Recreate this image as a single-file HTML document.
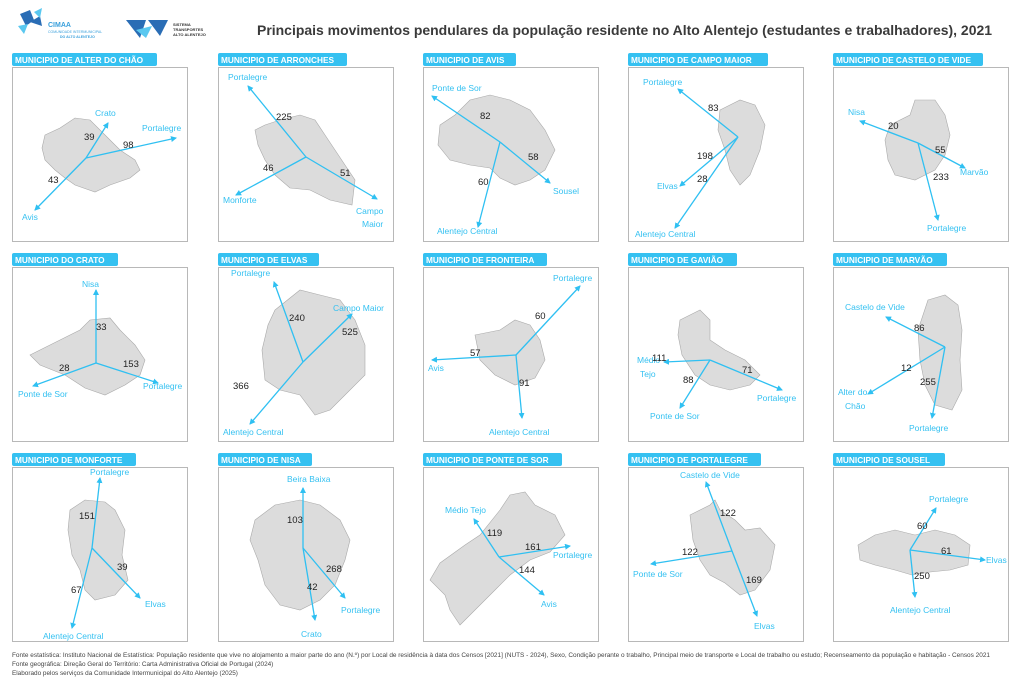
<!DOCTYPE html>
<html><head><meta charset="utf-8"><style>
body{margin:0;background:#fff;}
svg{display:block;font-family:"Liberation Sans",sans-serif;}
.box{fill:#fff;stroke:#b8b8b8;stroke-width:1}
.tab{fill:#35c1f1}
.tt{fill:#fff;font-weight:bold;font-size:8.3px}
.sh{fill:#dcdcdc;stroke:#aaa;stroke-width:0.6}
.ar{stroke:#2fc0f2;stroke-width:1.3;fill:none;marker-end:url(#m)}
.lb{fill:#35c1f1;font-size:8.5px}
.n{fill:#222;font-size:9.5px}
.f{fill:#444;font-size:6.4px}
</style></head><body>
<svg width="1024" height="678" viewBox="0 0 1024 678">
<defs><marker id="m" markerWidth="6" markerHeight="6" refX="5" refY="3" orient="auto" markerUnits="userSpaceOnUse"><path d="M0,0 L6,3 L0,6z" fill="#2fc0f2"/></marker></defs>
<!-- logos -->
<g fill="#2a6db5"><polygon points="20,14 30,10 34,20 26,26"/><polygon points="30,22 40,16 42,26"/></g>
<g fill="#5ac8f0"><polygon points="18,26 28,24 24,34"/><polygon points="34,12 42,8 40,18"/></g>
<text x="48" y="27" font-size="7" font-weight="bold" fill="#3aa0dc">CIMAA</text>
<text x="48" y="33" font-size="3.5" fill="#3aa0dc">COMUNIDADE INTERMUNICIPAL</text>
<text x="60" y="38" font-size="3.5" font-weight="bold" fill="#3aa0dc">DO ALTO ALENTEJO</text>
<g fill="#2a6db5"><polygon points="126,20 146,20 140,38"/><polygon points="148,20 168,20 160,36"/></g>
<g fill="#5ac8f0"><polygon points="136,30 152,26 146,38"/></g>
<text x="173" y="26" font-size="4" font-weight="bold" fill="#333">SISTEMA</text>
<text x="173" y="31" font-size="4" font-weight="bold" fill="#333">TRANSPORTES</text>
<text x="173" y="36" font-size="4" font-weight="bold" fill="#333">ALTO ALENTEJO</text>
<text x="257" y="35" font-size="14" font-weight="bold" fill="#3a3a3a" textLength="735" lengthAdjust="spacingAndGlyphs">Principais movimentos pendulares da população residente no Alto Alentejo (estudantes e trabalhadores), 2021</text>

<g>
<rect class="box" x="12.5" y="67.5" width="175" height="174"/><rect class="box" x="218.5" y="67.5" width="175" height="174"/><rect class="box" x="423.5" y="67.5" width="175" height="174"/><rect class="box" x="628.5" y="67.5" width="175" height="174"/><rect class="box" x="833.5" y="67.5" width="175" height="174"/>
<rect class="box" x="12.5" y="267.5" width="175" height="174"/><rect class="box" x="218.5" y="267.5" width="175" height="174"/><rect class="box" x="423.5" y="267.5" width="175" height="174"/><rect class="box" x="628.5" y="267.5" width="175" height="174"/><rect class="box" x="833.5" y="267.5" width="175" height="174"/>
<rect class="box" x="12.5" y="467.5" width="175" height="174"/><rect class="box" x="218.5" y="467.5" width="175" height="174"/><rect class="box" x="423.5" y="467.5" width="175" height="174"/><rect class="box" x="628.5" y="467.5" width="175" height="174"/><rect class="box" x="833.5" y="467.5" width="175" height="174"/>
</g>
<rect class="tab" x="12" y="53" width="145" height="13" rx="2"/><text class="tt" x="15" y="63">MUNICIPIO DE ALTER DO CHÃO</text>
<rect class="tab" x="218" y="53" width="129" height="13" rx="2"/><text class="tt" x="221" y="63">MUNICIPIO DE ARRONCHES</text>
<rect class="tab" x="423" y="53" width="93" height="13" rx="2"/><text class="tt" x="426" y="63">MUNICIPIO DE AVIS</text>
<rect class="tab" x="628" y="53" width="140" height="13" rx="2"/><text class="tt" x="631" y="63">MUNICIPIO DE CAMPO MAIOR</text>
<rect class="tab" x="833" y="53" width="150" height="13" rx="2"/><text class="tt" x="836" y="63">MUNICIPIO DE CASTELO DE VIDE</text>
<rect class="tab" x="12" y="253" width="106" height="13" rx="2"/><text class="tt" x="15" y="263">MUNICIPIO DO CRATO</text>
<rect class="tab" x="218" y="253" width="101" height="13" rx="2"/><text class="tt" x="221" y="263">MUNICIPIO DE ELVAS</text>
<rect class="tab" x="423" y="253" width="124" height="13" rx="2"/><text class="tt" x="426" y="263">MUNICIPIO DE FRONTEIRA</text>
<rect class="tab" x="628" y="253" width="109" height="13" rx="2"/><text class="tt" x="631" y="263">MUNICIPIO DE GAVIÃO</text>
<rect class="tab" x="833" y="253" width="114" height="13" rx="2"/><text class="tt" x="836" y="263">MUNICIPIO DE MARVÃO</text>
<rect class="tab" x="12" y="453" width="124" height="13" rx="2"/><text class="tt" x="15" y="463">MUNICIPIO DE MONFORTE</text>
<rect class="tab" x="218" y="453" width="94" height="13" rx="2"/><text class="tt" x="221" y="463">MUNICIPIO DE NISA</text>
<rect class="tab" x="423" y="453" width="139" height="13" rx="2"/><text class="tt" x="426" y="463">MUNICIPIO DE PONTE DE SOR</text>
<rect class="tab" x="628" y="453" width="133" height="13" rx="2"/><text class="tt" x="631" y="463">MUNICIPIO DE PORTALEGRE</text>
<rect class="tab" x="833" y="453" width="112" height="13" rx="2"/><text class="tt" x="836" y="463">MUNICIPIO DE SOUSEL</text>

<polygon class="sh" points="45,135 60,128 75,118 90,120 105,135 120,150 135,160 140,170 130,178 110,185 95,192 75,185 65,178 55,170 45,160 42,148"/>
<polygon class="sh" points="265,125 280,120 300,115 315,120 325,135 335,150 345,165 355,180 352,205 330,200 310,190 290,188 275,175 265,160 258,145 255,130"/>
<polygon class="sh" points="440,125 455,115 470,100 490,95 510,100 530,110 545,130 555,150 545,170 530,180 515,185 500,178 490,168 470,165 450,160 438,145"/>
<polygon class="sh" points="720,110 740,100 755,105 765,125 760,150 750,175 740,185 730,170 725,150 718,130"/>
<polygon class="sh" points="890,125 910,115 915,100 935,100 945,115 950,135 945,155 935,170 915,180 895,175 888,160 885,140"/>
<polygon class="sh" points="30,355 60,340 80,330 90,320 110,318 120,330 135,345 145,360 140,375 125,385 105,395 85,388 65,375 40,365"/>
<polygon class="sh" points="275,310 300,290 320,295 340,300 355,320 365,345 365,375 345,395 330,410 315,415 300,395 280,390 265,380 262,350 268,325"/>
<polygon class="sh" points="475,335 500,330 515,320 530,325 540,340 545,360 535,378 515,385 495,375 480,360"/>
<polygon class="sh" points="680,320 700,310 710,320 710,340 725,350 745,360 760,375 750,385 730,390 710,385 695,375 682,355 678,335"/>
<polygon class="sh" points="928,300 945,295 958,305 962,330 960,360 962,390 952,410 935,405 925,385 920,360 918,330"/>
<polygon class="sh" points="70,510 85,500 105,502 115,510 125,530 122,555 128,580 115,595 95,600 85,590 80,570 72,555 68,530"/>
<polygon class="sh" points="255,520 275,505 300,500 320,505 340,520 350,540 345,560 335,585 320,600 300,610 280,605 265,585 258,560 250,540"/>
<polygon class="sh" points="430,580 440,563 465,545 480,535 500,510 510,495 525,492 535,505 555,515 565,535 550,552 530,560 510,575 495,590 475,610 460,625 450,610 445,595"/>
<polygon class="sh" points="690,515 710,505 715,500 720,510 735,520 745,530 760,528 775,545 770,570 755,590 740,595 725,583 710,575 700,560 693,540"/>
<polygon class="sh" points="858,545 875,535 895,530 915,535 935,530 955,535 970,545 968,565 950,570 930,572 912,575 895,570 875,565 860,560"/>

<g>
<path class="ar" d="M86,158 L108,123"/><path class="ar" d="M86,158 L176,138"/><path class="ar" d="M86,158 L35,210"/>
<path class="ar" d="M306,157 L248,86"/><path class="ar" d="M306,157 L236,195"/><path class="ar" d="M306,157 L377,199"/>
<path class="ar" d="M500,142 L432,96"/><path class="ar" d="M500,142 L550,183"/><path class="ar" d="M500,142 L478,227"/>
<path class="ar" d="M738,137 L678,89"/><path class="ar" d="M738,137 L680,186"/><path class="ar" d="M738,137 L675,228"/>
<path class="ar" d="M918,143 L860,121"/><path class="ar" d="M918,143 L965,168"/><path class="ar" d="M918,143 L938,220"/>
<path class="ar" d="M96,363 L96,290"/><path class="ar" d="M96,363 L33,386"/><path class="ar" d="M96,363 L158,383"/>
<path class="ar" d="M303,362 L274,282"/><path class="ar" d="M303,362 L352,314"/><path class="ar" d="M303,362 L250,424"/>
<path class="ar" d="M516,355 L580,286"/><path class="ar" d="M516,355 L432,360"/><path class="ar" d="M516,355 L522,418"/>
<path class="ar" d="M710,360 L664,362"/><path class="ar" d="M710,360 L680,408"/><path class="ar" d="M710,360 L782,390"/>
<path class="ar" d="M945,347 L886,317"/><path class="ar" d="M945,347 L868,394"/><path class="ar" d="M945,347 L932,418"/>
<path class="ar" d="M92,548 L100,478"/><path class="ar" d="M92,548 L72,628"/><path class="ar" d="M92,548 L140,598"/>
<path class="ar" d="M303,548 L303,488"/><path class="ar" d="M303,548 L315,620"/><path class="ar" d="M303,548 L345,598"/>
<path class="ar" d="M499,557 L474,519"/><path class="ar" d="M499,557 L570,546"/><path class="ar" d="M499,557 L544,595"/>
<path class="ar" d="M732,551 L706,482"/><path class="ar" d="M732,551 L651,564"/><path class="ar" d="M732,551 L757,616"/>
<path class="ar" d="M910,550 L936,508"/><path class="ar" d="M910,550 L985,560"/><path class="ar" d="M910,550 L915,597"/>
</g>

<g class="lb">
<text x="95" y="116">Crato</text><text x="142" y="131">Portalegre</text><text x="22" y="220">Avis</text>
<text x="228" y="80">Portalegre</text><text x="223" y="203">Monforte</text><text x="356" y="214">Campo</text><text x="362" y="227">Maior</text>
<text x="432" y="91">Ponte de Sor</text><text x="553" y="194">Sousel</text><text x="437" y="234">Alentejo Central</text>
<text x="643" y="85">Portalegre</text><text x="657" y="189">Elvas</text><text x="635" y="237">Alentejo Central</text>
<text x="848" y="115">Nisa</text><text x="960" y="175">Marvão</text><text x="927" y="231">Portalegre</text>
<text x="82" y="287">Nisa</text><text x="18" y="397">Ponte de Sor</text><text x="143" y="389">Portalegre</text>
<text x="231" y="276">Portalegre</text><text x="333" y="311">Campo Maior</text><text x="223" y="435">Alentejo Central</text>
<text x="553" y="281">Portalegre</text><text x="428" y="371">Avis</text><text x="489" y="435">Alentejo Central</text>
<text x="637" y="363">Médio</text><text x="640" y="377">Tejo</text><text x="650" y="419">Ponte de Sor</text><text x="757" y="401">Portalegre</text>
<text x="845" y="310">Castelo de Vide</text><text x="838" y="395">Alter do</text><text x="845" y="409">Chão</text><text x="909" y="431">Portalegre</text>
<text x="90" y="475">Portalegre</text><text x="43" y="639">Alentejo Central</text><text x="145" y="607">Elvas</text>
<text x="287" y="482">Beira Baixa</text><text x="301" y="637">Crato</text><text x="341" y="613">Portalegre</text>
<text x="445" y="513">Médio Tejo</text><text x="553" y="558">Portalegre</text><text x="541" y="607">Avis</text>
<text x="680" y="478">Castelo de Vide</text><text x="633" y="577">Ponte de Sor</text><text x="754" y="629">Elvas</text>
<text x="929" y="502">Portalegre</text><text x="986" y="563">Elvas</text><text x="890" y="613">Alentejo Central</text>
</g>
<g class="n">
<text x="84" y="140">39</text><text x="123" y="148">98</text><text x="48" y="183">43</text>
<text x="276" y="120">225</text><text x="263" y="171">46</text><text x="340" y="176">51</text>
<text x="480" y="119">82</text><text x="528" y="160">58</text><text x="478" y="185">60</text>
<text x="708" y="111">83</text><text x="697" y="159">198</text><text x="697" y="182">28</text>
<text x="888" y="129">20</text><text x="935" y="153">55</text><text x="933" y="180">233</text>
<text x="96" y="330">33</text><text x="59" y="371">28</text><text x="123" y="367">153</text>
<text x="289" y="321">240</text><text x="342" y="335">525</text><text x="233" y="389">366</text>
<text x="535" y="319">60</text><text x="470" y="356">57</text><text x="519" y="386">91</text>
<text x="652" y="361">111</text><text x="683" y="383">88</text><text x="742" y="373">71</text>
<text x="914" y="331">86</text><text x="901" y="371">12</text><text x="920" y="385">255</text>
<text x="79" y="519">151</text><text x="117" y="570">39</text><text x="71" y="593">67</text>
<text x="287" y="523">103</text><text x="307" y="590">42</text><text x="326" y="572">268</text>
<text x="487" y="536">119</text><text x="525" y="550">161</text><text x="519" y="573">144</text>
<text x="720" y="516">122</text><text x="682" y="555">122</text><text x="746" y="583">169</text>
<text x="917" y="529">60</text><text x="941" y="554">61</text><text x="914" y="579">250</text>
</g>
<text class="f" x="12" y="657" textLength="978" lengthAdjust="spacingAndGlyphs">Fonte estatística: Instituto Nacional de Estatística: População residente que vive no alojamento a maior parte do ano (N.º) por Local de residência à data dos Censos [2021] (NUTS - 2024), Sexo, Condição perante o trabalho, Principal meio de transporte e Local de trabalho ou estudo; Recenseamento da população e habitação - Censos 2021</text>
<text class="f" x="12" y="666">Fonte geográfica: Direção Geral do Território: Carta Administrativa Oficial de Portugal (2024)</text>
<text class="f" x="12" y="675">Elaborado pelos serviços da Comunidade Intermunicipal do Alto Alentejo (2025)</text>
</svg>
</body></html>
